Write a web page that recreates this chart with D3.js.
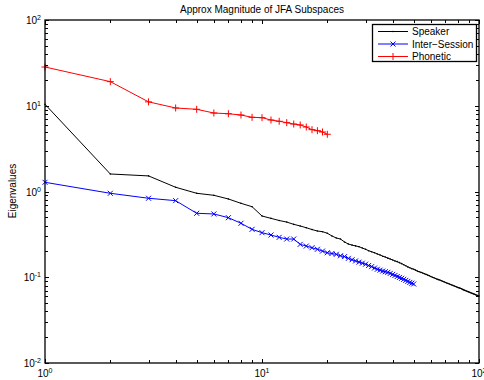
<!DOCTYPE html>
<html>
<head>
<meta charset="utf-8">
<script src="https://cdn.jsdelivr.net/npm/d3@7"></script>
<style>
  body { margin: 0; background: #fff; }
  text { font-family: "Liberation Sans", Arial, sans-serif; }
</style>
</head>
<body>
<svg id="chart" width="484" height="380"></svg>
<script>
// values (index 1..n on x)
var speakerVals = [10.4, 1.60, 1.52, 1.12, 0.953, 0.903, 0.818, 0.728, 0.665, 0.518,
  0.486, 0.459, 0.44, 0.414, 0.396, 0.378, 0.36, 0.346, 0.34, 0.326,
  0.303, 0.287, 0.279, 0.258, 0.244, 0.237, 0.232, 0.227, 0.219, 0.212,
  0.204, 0.198, 0.193, 0.187, 0.182, 0.176, 0.172, 0.167, 0.163, 0.159,
  0.155, 0.152, 0.148, 0.144, 0.140, 0.136, 0.132, 0.129, 0.126, 0.124,
  0.121, 0.118, 0.116, 0.114, 0.112, 0.110, 0.108, 0.106, 0.104, 0.102,
  0.100, 0.0985, 0.0968, 0.0952, 0.0938, 0.0929, 0.0912, 0.0898, 0.0884, 0.0870,
  0.0858, 0.0846, 0.0834, 0.0822, 0.0811, 0.0800, 0.0790, 0.0780, 0.0770, 0.0760,
  0.0751, 0.0743, 0.0733, 0.0722, 0.0712, 0.0703, 0.0695, 0.0687, 0.0679, 0.0671,
  0.0663, 0.0656, 0.0649, 0.0642, 0.0635, 0.0628, 0.0621, 0.0615, 0.0609, 0.0604];

var sessionVals = [1.28, 0.953, 0.834, 0.782, 0.557, 0.547, 0.495, 0.426, 0.362, 0.331,
  0.311, 0.292, 0.279, 0.279, 0.242, 0.231, 0.221, 0.212, 0.202, 0.193,
  0.189, 0.185, 0.178, 0.174, 0.166, 0.160, 0.155, 0.150, 0.146, 0.142,
  0.137, 0.133, 0.128, 0.124, 0.121, 0.118, 0.116, 0.114, 0.111, 0.108,
  0.105, 0.102, 0.0995, 0.0972, 0.0946, 0.0920, 0.0895, 0.0870, 0.0852, 0.0834];

var phoneticVals = [28.3, 19.1, 11.1, 9.42, 9.09, 8.23, 8.07, 7.80, 7.33, 7.26,
  6.82, 6.59, 6.35, 6.12, 5.97, 5.65, 5.26, 5.12, 4.94, 4.65];

var seriesNames = ["Speaker", "Inter\u2212Session", "Phonetic"];
var seriesColors = ["#000000", "#0000ff", "#ff0000"];
var seriesMarkers = ["dot", "x", "plus"];
var decadeExp = [0, 1, 2];
var yDecadeExp = [-2, -1, 0, 1, 2];

var svg = d3.select("#chart");
var pLeft = 45, pRight = 479, pTop = 20, pBottom = 363;

var x = d3.scaleLog().domain([1, 100]).range([pLeft, pRight]);
var y = d3.scaleLog().domain([0.01, 100]).range([pBottom, pTop]);

// title and y label
svg.append("text").attr("x", 262).attr("y", 13).attr("text-anchor", "middle")
  .attr("font-size", 10).text("Approx Magnitude of JFA Subspaces");
svg.append("text").attr("transform", "translate(16,191) rotate(-90)")
  .attr("text-anchor", "middle").attr("font-size", 10).text("Eigenvalues");

// minor + major ticks, inside, on all four sides
var xTicks = x.ticks(), yTicks = y.ticks();
function isMajor(v) { return Math.abs(Math.log10(v) - Math.round(Math.log10(v))) < 1e-9; }
var tg = svg.append("g").attr("stroke", "#000").attr("stroke-width", 1);
xTicks.forEach(function (v) {
  var len = isMajor(v) ? 4 : 3, px = Math.round(x(v)) + 0.5;
  tg.append("line").attr("x1", px).attr("x2", px).attr("y1", pBottom).attr("y2", pBottom - len);
  tg.append("line").attr("x1", px).attr("x2", px).attr("y1", pTop).attr("y2", pTop + len);
});
yTicks.forEach(function (v) {
  var len = isMajor(v) ? 4 : 3, py = Math.round(y(v)) + 0.5;
  tg.append("line").attr("y1", py).attr("y2", py).attr("x1", pLeft).attr("x2", pLeft + len);
  tg.append("line").attr("y1", py).attr("y2", py).attr("x1", pRight).attr("x2", pRight - len);
});

// tick labels with superscripts
decadeExp.forEach(function (e) {
  var t = svg.append("text").attr("x", x(Math.pow(10, e))).attr("y", 377)
    .attr("text-anchor", "middle").attr("font-size", 10);
  t.append("tspan").text("10");
  t.append("tspan").attr("dy", -4).attr("font-size", 7).text(e);
});
yDecadeExp.forEach(function (e) {
  var t = svg.append("text").attr("x", 41).attr("y", y(Math.pow(10, e)) + 4)
    .attr("text-anchor", "end").attr("font-size", 10);
  t.append("tspan").text("10");
  t.append("tspan").attr("dy", -4).attr("font-size", 7).text(e);
});

// series
var allVals = [speakerVals, sessionVals, phoneticVals];
var line = d3.line().x(function (d, i) { return x(i + 1); }).y(function (d) { return y(d); });

function drawMarker(g, kind, cx, cy, color) {
  if (kind === "x") {
    g.append("path").attr("d", "M" + (cx - 2.5) + "," + (cy - 2.5) + "L" + (cx + 2.5) + "," + (cy + 2.5) +
      "M" + (cx - 2.5) + "," + (cy + 2.5) + "L" + (cx + 2.5) + "," + (cy - 2.5))
      .attr("stroke", color).attr("stroke-width", 1).attr("fill", "none");
  } else if (kind === "plus") {
    g.append("path").attr("d", "M" + (cx - 3.5) + "," + cy + "L" + (cx + 3.5) + "," + cy +
      "M" + cx + "," + (cy - 3.5) + "L" + cx + "," + (cy + 3.5))
      .attr("stroke", color).attr("stroke-width", 1).attr("fill", "none");
  } else {
    g.append("circle").attr("cx", cx).attr("cy", cy).attr("r", 0.8).attr("fill", color);
  }
}

var plot = svg.append("g");
allVals.forEach(function (vals, k) {
  plot.append("path").datum(vals).attr("d", line)
    .attr("fill", "none").attr("stroke", seriesColors[k]).attr("stroke-width", 1);
  var mg = plot.append("g");
  vals.forEach(function (v, i) { drawMarker(mg, seriesMarkers[k], x(i + 1), y(v), seriesColors[k]); });
});

// axes box
svg.append("rect").attr("x", pLeft).attr("y", pTop).attr("width", pRight - pLeft).attr("height", pBottom - pTop)
  .attr("fill", "none").attr("stroke", "#000").attr("stroke-width", 1.3);

// legend
var lg = svg.append("g");
lg.append("rect").attr("x", 372.5).attr("y", 24.5).attr("width", 104).attr("height", 37)
  .attr("fill", "#fff").attr("stroke", "#000").attr("stroke-width", 1.3);
seriesNames.forEach(function (name, k) {
  var ly = 31.5 + k * 12.5;
  lg.append("line").attr("x1", 378).attr("x2", 408).attr("y1", ly).attr("y2", ly)
    .attr("stroke", seriesColors[k]).attr("stroke-width", 1);
  drawMarker(lg, seriesMarkers[k], 393, ly, seriesColors[k]);
  lg.append("text").attr("x", 412).attr("y", ly + 3.5).attr("font-size", 10).text(name);
});
</script>
</body>
</html>
